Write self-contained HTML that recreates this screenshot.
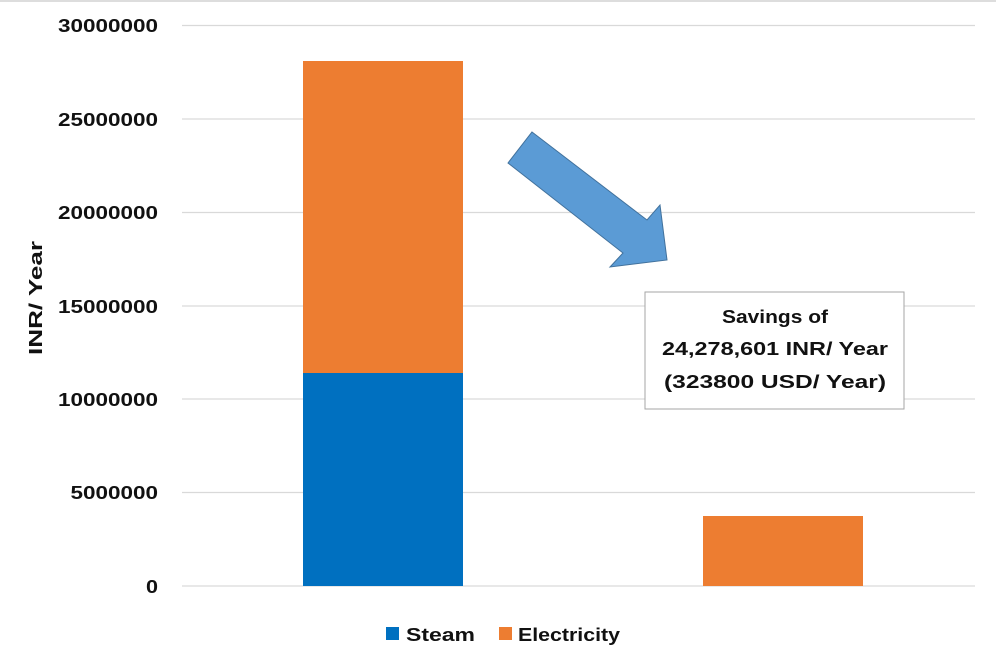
<!DOCTYPE html>
<html><head><style>
body{margin:0;background:#fff;}
svg text{font-family:"Liberation Sans",Arial,sans-serif;font-weight:bold;fill:#111;}
</style></head><body>
<svg width="996" height="659" viewBox="0 0 996 659" xmlns="http://www.w3.org/2000/svg">
<rect x="0" y="0" width="996" height="659" fill="#fff"/>
<line x1="0" y1="1" x2="996" y2="1" stroke="#ddd" stroke-width="2"/>
<g stroke="#d9d9d9" stroke-width="1.3">
<line x1="182" y1="25.5" x2="975" y2="25.5"/>
<line x1="182" y1="119" x2="975" y2="119"/>
<line x1="182" y1="212.5" x2="975" y2="212.5"/>
<line x1="182" y1="306" x2="975" y2="306"/>
<line x1="182" y1="399" x2="975" y2="399"/>
<line x1="182" y1="492.5" x2="975" y2="492.5"/>
<line x1="182" y1="586" x2="975" y2="586"/>
</g>
<g font-size="18">
<text x="58" y="32" textLength="100" lengthAdjust="spacingAndGlyphs">30000000</text>
<text x="58" y="126" textLength="100" lengthAdjust="spacingAndGlyphs">25000000</text>
<text x="58" y="219" textLength="100" lengthAdjust="spacingAndGlyphs">20000000</text>
<text x="58" y="313" textLength="100" lengthAdjust="spacingAndGlyphs">15000000</text>
<text x="58" y="406" textLength="100" lengthAdjust="spacingAndGlyphs">10000000</text>
<text x="70.5" y="499" textLength="87.5" lengthAdjust="spacingAndGlyphs">5000000</text>
<text x="146" y="593" textLength="12" lengthAdjust="spacingAndGlyphs">0</text>
</g>
<text x="-355" y="42" font-size="18" transform="rotate(-90)" textLength="114" lengthAdjust="spacingAndGlyphs">INR/ Year</text>
<rect x="303" y="61" width="160" height="312" fill="#ED7D31"/>
<rect x="303" y="373" width="160" height="213" fill="#0070C0"/>
<rect x="703" y="516" width="160" height="70" fill="#ED7D31"/>
<polygon points="532,132 647,220 660,205 667,260 610,267 623,253 508,163" fill="#5B9BD5" stroke="#41719C" stroke-width="1"/>
<rect x="645" y="292" width="259" height="117" fill="#fff" stroke="#a6a6a6" stroke-width="1"/>
<g font-size="18">
<text x="722" y="323" textLength="106" lengthAdjust="spacingAndGlyphs">Savings of</text>
<text x="662" y="355" textLength="226" lengthAdjust="spacingAndGlyphs">24,278,601 INR/ Year</text>
<text x="664" y="388" textLength="222" lengthAdjust="spacingAndGlyphs">(323800 USD/ Year)</text>
</g>
<rect x="386" y="627" width="13" height="13" fill="#0070C0"/>
<text x="406" y="641" font-size="18" textLength="69" lengthAdjust="spacingAndGlyphs">Steam</text>
<rect x="499" y="627" width="13" height="13" fill="#ED7D31"/>
<text x="518" y="641" font-size="18" textLength="102" lengthAdjust="spacingAndGlyphs">Electricity</text>
</svg>
</body></html>
